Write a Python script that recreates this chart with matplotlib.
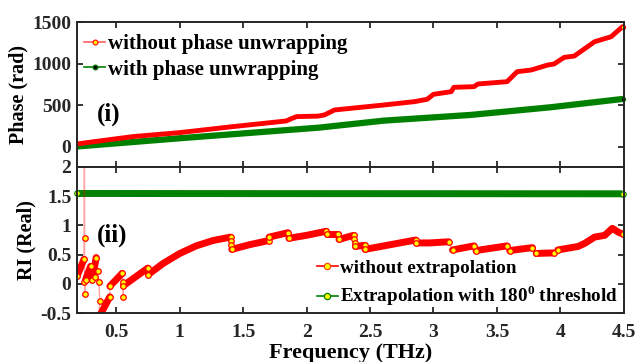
import matplotlib
matplotlib.use("Agg")
import matplotlib.pyplot as plt
from matplotlib.lines import Line2D

plt.rcParams["font.family"] = ["Liberation Serif", "DejaVu Serif"]
plt.rcParams["font.weight"] = "bold"
plt.rcParams["axes.labelweight"] = "bold"
plt.rcParams["mathtext.fontset"] = "custom"
plt.rcParams["mathtext.bf"] = "Liberation Serif:bold"
plt.rcParams["mathtext.rm"] = "Liberation Serif:bold"

# ---- panel (i): phase ----
ph_red_f = [0.19, 0.37, 0.63, 1.0, 1.42, 1.84, 1.88, 1.92, 2.09, 2.14, 2.22, 2.35, 2.61, 2.85, 2.95,
            3.0, 3.14, 3.16, 3.32, 3.35, 3.58, 3.66, 3.77, 3.90, 3.95, 4.03, 4.11, 4.27, 4.40, 4.49]
ph_red_v = [36, 72, 124, 172, 244, 312, 340, 364, 370, 384, 444, 464, 504, 544, 572,
            632, 664, 716, 724, 756, 784, 904, 924, 984, 996, 1076, 1092, 1264, 1324, 1444]
ph_green_f = [0.19, 1.0, 2.1, 2.61, 3.29, 3.92, 4.49]
ph_green_v = [5, 104, 232, 316, 384, 476, 576]

# ---- panel (ii): refractive index, pieces between phase jumps ----
ri_red_f = [[0.19, 0.245], [0.248], [0.251], [0.248], [0.25], [0.257, 0.297], [0.31, 0.341],
            [0.328], [0.354], [0.362], [0.37], [0.36, 0.449], [0.449, 0.546], [0.554], [0.554],
            [0.556, 0.748], [0.752, 0.869, 1.0, 1.13, 1.26, 1.40], [1.402], [1.404],
            [1.41, 1.55, 1.70], [1.705, 1.853], [1.86, 2.0, 2.155], [2.16, 2.25], [2.255, 2.37],
            [2.375], [2.38], [2.385, 2.457], [2.46, 2.86], [2.865, 2.97, 3.12], [3.15, 3.32],
            [3.335, 3.58], [3.60, 3.78], [3.81, 3.95],
            [3.98, 4.14, 4.19, 4.27, 4.35, 4.41, 4.46, 4.495]]
ri_red_v = [[0.13, 0.42], [2.6], [0.79], [0.04], [-0.17], [0.07, 0.30], [0.07, 0.45],
            [0.12], [0.22], [0.03], [-0.30], [-0.58, -0.22], [-0.04, 0.18], [0.03], [-0.22],
            [-0.03, 0.27], [0.16, 0.35, 0.52, 0.65, 0.74, 0.80], [0.73], [0.67],
            [0.59, 0.67, 0.74], [0.80, 0.875], [0.78, 0.83, 0.90], [0.85, 0.85], [0.76, 0.83],
            [0.76], [0.70], [0.64, 0.66], [0.59, 0.75], [0.70, 0.70, 0.72], [0.58, 0.65],
            [0.57, 0.65], [0.57, 0.62], [0.52, 0.53],
            [0.58, 0.64, 0.69, 0.80, 0.83, 0.95, 0.88, 0.85]]
ri_green_f = [0.19, 4.49]
ri_green_v = [1.545, 1.54]

xticks = [0.5, 1, 1.5, 2, 2.5, 3, 3.5, 4, 4.5]
xtick_labels = ["0.5", "1", "1.5", "2", "2.5", "3", "3.5", "4", "4.5"]

RED = "#ff0000"
GREEN = "#008000"
YEL = "#ffff00"

fig = plt.figure(figsize=(6.38, 3.62), dpi=100)
ax1 = fig.add_axes([0.1207, 0.539, 0.857, 0.400])
ax2 = fig.add_axes([0.1207, 0.135, 0.857, 0.404])

# panel (i)
ax1.plot(ph_green_f, ph_green_v, color=GREEN, lw=4.5, solid_capstyle="round")
ax1.plot(ph_red_f, ph_red_v, color=RED, lw=3.5, solid_capstyle="round")
ax1.plot(ph_red_f[-1], ph_red_v[-1], "o", ms=3, mfc=YEL, mec=RED, mew=0.8, clip_on=False)
ax1.plot(ph_green_f[-1], ph_green_v[-1], "o", ms=3, mfc="black", mec=GREEN, mew=0.8, clip_on=False)
ax1.set_ylim(-240, 1500)
ax1.set_yticks([0, 500, 1000, 1500])
ax1.set_ylabel("Phase (rad)", fontsize=14.5, labelpad=3)
ax1.text(0.036, 0.36, "(i)", transform=ax1.transAxes, fontsize=18, fontweight="bold", va="center")

h1 = [Line2D([], [], color="#ff6060", lw=1.2, marker="o", ms=3.5, mfc=YEL, mec=RED, mew=0.8),
      Line2D([], [], color=GREEN, lw=1.2, marker="o", ms=3.5, mfc="black", mec=GREEN, mew=0.8)]
ax1.legend(h1, ["without phase unwrapping", "with phase unwrapping"], loc="upper left",
           bbox_to_anchor=(0.0, 0.965), frameon=False, fontsize=15, handlelength=1.0,
           handletextpad=0.15, labelspacing=0.25, borderpad=0.35, borderaxespad=0.0)

# panel (ii)
ax2.plot(ri_green_f, ri_green_v, color=GREEN, lw=5, solid_capstyle="butt")
ax2.plot(ri_green_f, ri_green_v, "o", ms=4, mfc=YEL, mec=GREEN, mew=0.8, clip_on=False)
all_f = [f for seg in ri_red_f for f in seg]
all_v = [v for seg in ri_red_v for v in seg]
ax2.plot(all_f, all_v, color=RED, lw=1, alpha=0.35)
for fs, vs in zip(ri_red_f, ri_red_v):
    if len(fs) > 1:
        ax2.plot(fs, vs, color=RED, lw=5, solid_capstyle="round")
for fs, vs in zip(ri_red_f, ri_red_v):
    ends_f = [fs[0], fs[-1]] if len(fs) > 1 else fs
    ends_v = [vs[0], vs[-1]] if len(vs) > 1 else vs
    ax2.plot(ends_f, ends_v, "o", ms=4, mfc=YEL, mec=RED, mew=0.9, ls="none")
ax2.set_ylim(-0.5, 2)
ax2.set_yticks([-0.5, 0, 0.5, 1, 1.5, 2])
ax2.set_yticklabels(["-0.5", "0", "0.5", "1", "1.5", "2"])
ax2.set_ylabel("RI (Real)", fontsize=14.5, labelpad=3)
ax2.set_xlabel("Frequency (THz)", fontsize=16, labelpad=1)
ax2.text(0.036, 0.53, "(ii)", transform=ax2.transAxes, fontsize=18, fontweight="bold", va="center")

h2 = [Line2D([], [], color=RED, lw=1.2, marker="o", ms=4.5, mfc=YEL, mec="#ff4400", mew=0.9),
      Line2D([], [], color=GREEN, lw=1.2, marker="o", ms=4.5, mfc=YEL, mec=GREEN, mew=0.9)]
ax2.legend(h2, ["without extrapolation", "Extrapolation with 180$^{\\mathbf{0}}$ threshold"],
           loc="lower right", bbox_to_anchor=(0.99, 0.032), frameon=False, fontsize=13.7,
           handlelength=1.1, handletextpad=0.15, labelspacing=0.35, borderpad=0.0,
           borderaxespad=0.0)

for ax in (ax1, ax2):
    ax.set_xlim(0.19, 4.5)
    ax.set_xticks(xticks)
    ax.tick_params(direction="in", top=True, right=True, length=4, width=1.3,
                   labelsize=14, colors="#262626", labelcolor="#262626", pad=4)
    for s in ax.spines.values():
        s.set_linewidth(1.4)
        s.set_color("#262626")
ax2.tick_params(axis="x", pad=8)
ax1.set_xticklabels([])
ax2.set_xticklabels(xtick_labels)
for lab in ax1.get_yticklabels() + ax2.get_yticklabels() + ax2.get_xticklabels():
    lab.set_fontweight("bold")

fig.savefig("out.png", dpi=100)
